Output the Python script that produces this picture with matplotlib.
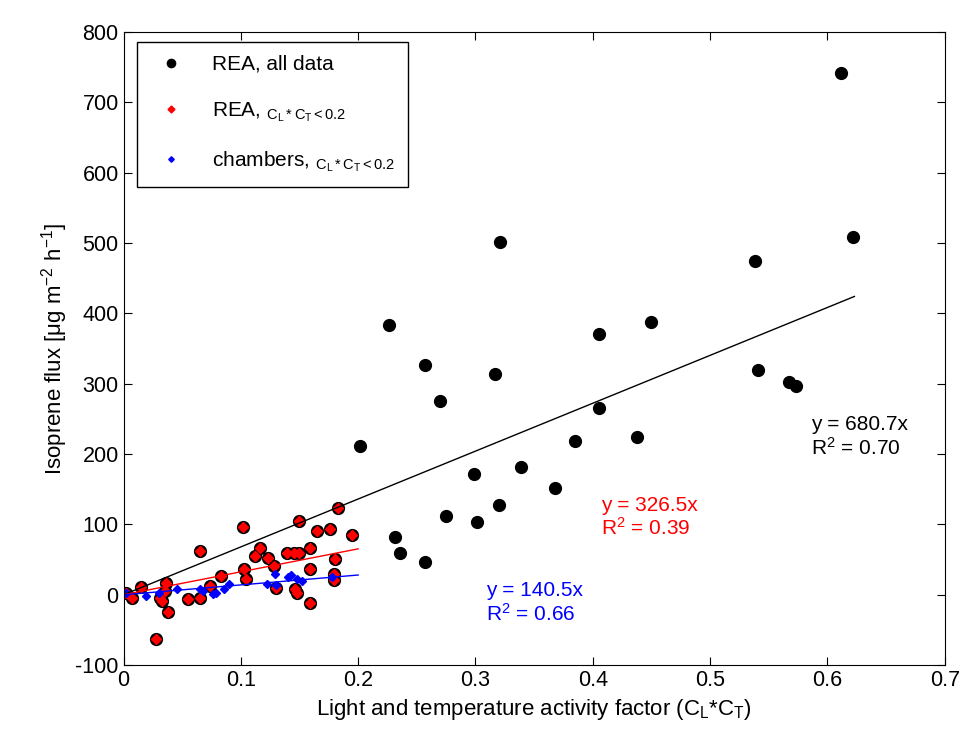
import numpy as np
import matplotlib
matplotlib.use("Agg")
import matplotlib.pyplot as plt

plt.rcParams['font.family'] = ['Liberation Sans', 'DejaVu Sans']
plt.rcParams['mathtext.fontset'] = 'custom'
plt.rcParams['mathtext.rm'] = 'Liberation Sans'
plt.rcParams['mathtext.it'] = 'Liberation Sans'
plt.rcParams['axes.unicode_minus'] = False

# REA flux measurements (all data)
rea_x = [0.002, 0.007, 0.015, 0.028, 0.031, 0.033, 0.035, 0.036, 0.038, 0.055,
         0.065, 0.065, 0.0735, 0.0835, 0.102, 0.103, 0.104, 0.112, 0.116, 0.123,
         0.128, 0.130, 0.139, 0.145, 0.150, 0.146, 0.148, 0.150, 0.159, 0.159,
         0.159, 0.165, 0.176, 0.180, 0.179, 0.179, 0.183, 0.195,
         0.2017, 0.2265, 0.2316, 0.236, 0.257, 0.257, 0.270, 0.275, 0.299, 0.301,
         0.317, 0.321, 0.320, 0.339, 0.368, 0.385, 0.405, 0.405, 0.438, 0.450,
         0.538, 0.541, 0.567, 0.573, 0.612, 0.622]
rea_y = [3, -4, 11, -63, -4, -9, 6, 17, -25, -6,
         62, -4, 13, 27, 96, 37, 22, 55, 67, 53,
         41, 10, 59, 59, 59, 8, 3, 105, 67, 37,
         -11, 91, 93, 51, 21, 30, 123, 85,
         212, 383, 82, 60, 327, 47, 276, 112, 171, 104,
         314, 501, 128, 182, 152, 219, 370, 266, 225, 388,
         475, 319, 303, 297, 741, 509]

# chamber measurements (CL*CT < 0.2)
ch_x = [0.002, 0.019, 0.030, 0.046, 0.065, 0.068, 0.076, 0.079, 0.086, 0.090,
        0.122, 0.129, 0.130, 0.140, 0.143, 0.148, 0.152, 0.1775]
ch_y = [2, -2, 3, 8, 8, 6, 1, 3, 8, 15,
        15, 30, 14, 25, 28, 22, 20, 25]

slope_all, r2_all = 680.7, 0.70
slope_low, r2_low = 326.5, 0.39
slope_ch, r2_ch = 140.5, 0.66

rea_x = np.array(rea_x)
rea_y = np.array(rea_y)
low = rea_x < 0.2

fig = plt.figure(figsize=(9.65, 7.44), dpi=100)
ax = fig.add_axes([0.128, 0.106, 0.851, 0.851])

ax.plot(rea_x, rea_y, 'o', color='black', markersize=8.5, label='REA, all data')
ax.plot(rea_x[low], rea_y[low], 'D', color='red', markersize=5,
        label=r'REA, $_{\mathregular{C_L*C_T < 0.2}}$')
ax.plot(ch_x, ch_y, 'D', color='blue', markersize=4,
        label=r'chambers, $_{\mathregular{C_L*C_T < 0.2}}$')

xl = np.array([0, 0.623])
ax.plot(xl, slope_all * xl, color='black', linewidth=1)
xs = np.array([0, 0.2])
ax.plot(xs, slope_low * xs, color='red', linewidth=1)
ax.plot(xs, slope_ch * xs, color='blue', linewidth=1)

ax.text(0.586, 255, f'y = {slope_all}x\nR$^2$ = {r2_all:.2f}', color='black',
        fontsize=15, va='top', linespacing=1.15)
ax.text(0.407, 141, f'y = {slope_low}x\nR$^2$ = {r2_low:.2f}', color='red',
        fontsize=15, va='top', linespacing=1.15)
ax.text(0.309, 20, f'y = {slope_ch}x\nR$^2$ = {r2_ch:.2f}', color='blue',
        fontsize=15, va='top', linespacing=1.15)

ax.set_xlim(0, 0.7)
ax.set_ylim(-100, 800)
ax.set_xticks(np.arange(0, 0.71, 0.1))
ax.set_xticklabels(['0', '0.1', '0.2', '0.3', '0.4', '0.5', '0.6', '0.7'])
ax.set_yticks(np.arange(-100, 801, 100))
ax.tick_params(direction='in', top=True, right=True, labelsize=15.5, length=6)
ax.set_xlabel(r'Light and temperature activity factor (C$_L$*C$_T$)', fontsize=16)
ax.set_ylabel(r'Isoprene flux [$\mu$g m$^{-2}$ h$^{-1}$]', fontsize=16)

leg = ax.legend(loc='upper left', fontsize=15, fancybox=False, edgecolor='black',
                framealpha=1, labelspacing=1.25, handletextpad=1.0,
                borderpad=0.6, markerscale=0.7, bbox_to_anchor=(0.004, 1.0))
leg.get_frame().set_linewidth(1)

fig.savefig('out.png', dpi=100)
